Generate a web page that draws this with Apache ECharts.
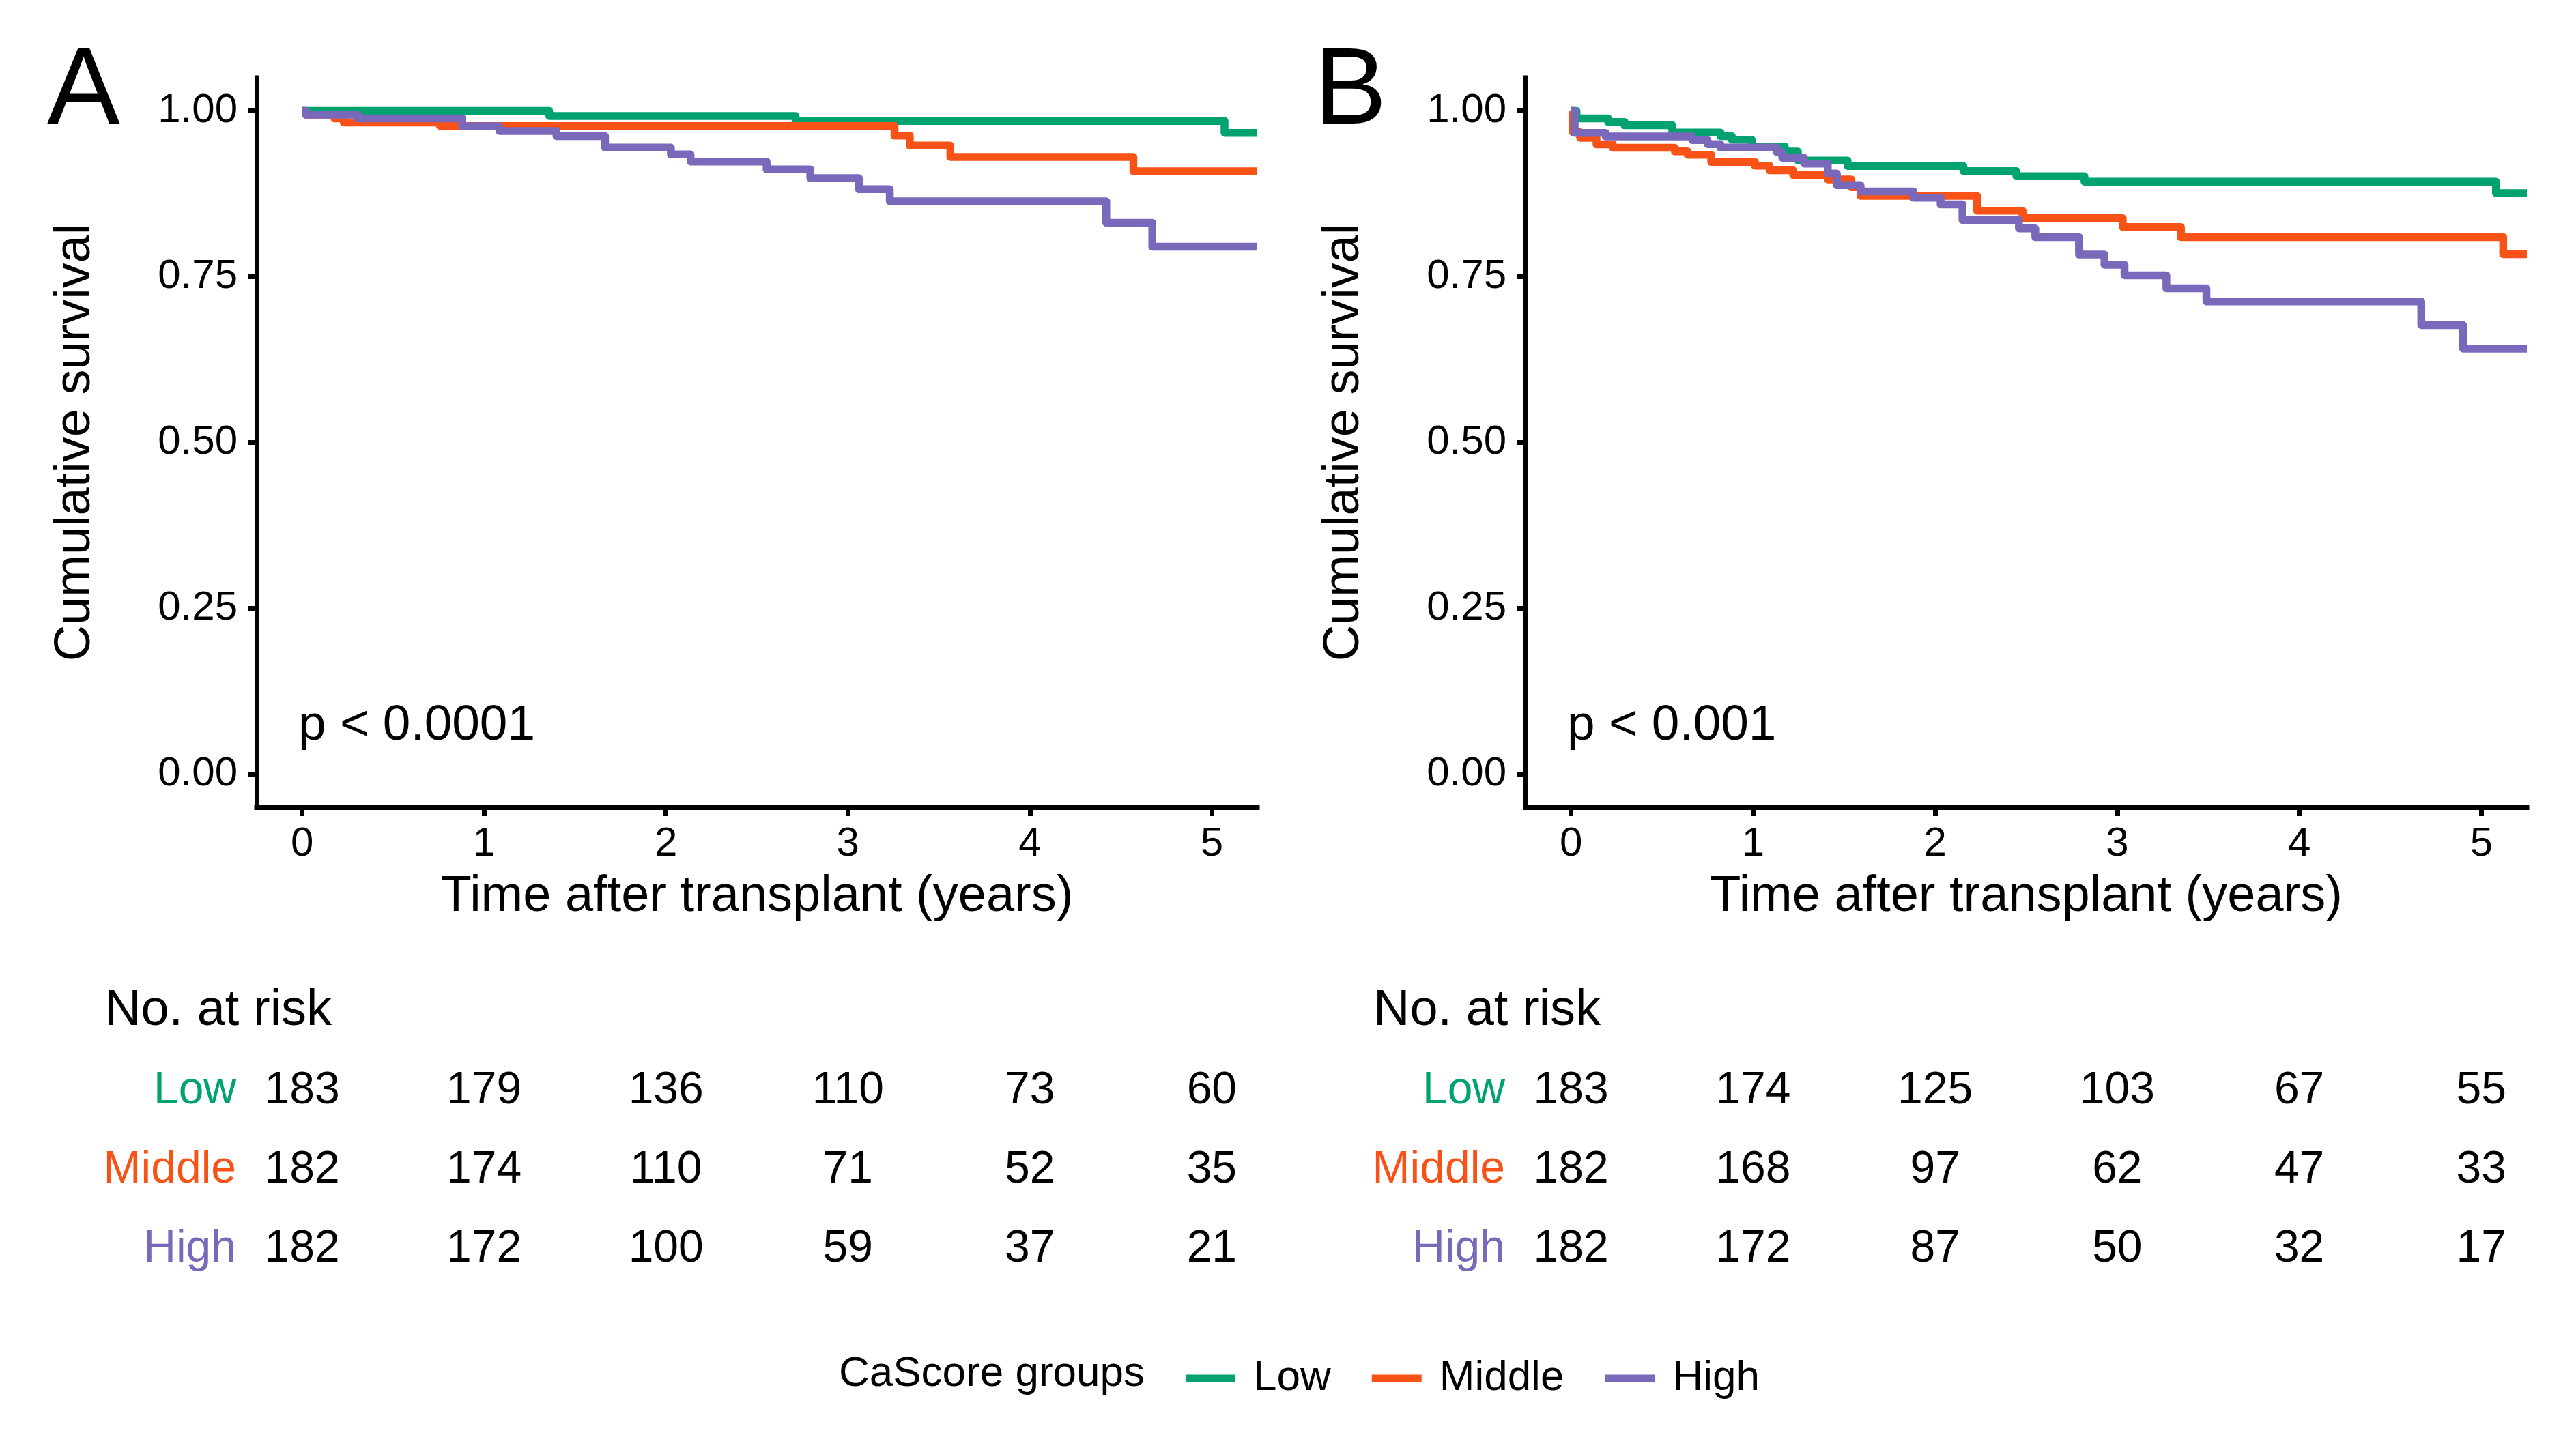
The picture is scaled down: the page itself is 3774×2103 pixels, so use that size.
<!DOCTYPE html>
<html>
<head>
<meta charset="utf-8">
<script src="https://cdn.jsdelivr.net/npm/echarts@6/dist/echarts.min.js"></script>
<style>
html,body{margin:0;padding:0;background:#fff;}
#chart{width:3774px;height:2103px;}
</style>
</head>
<body>
<div id="chart"></div>
<script>
// ---------------- DATA ----------------
const groups = ['Low', 'Middle', 'High'];
const timeTicks = [0, 1, 2, 3, 4, 5];
const survTicks = [0, 0.25, 0.5, 0.75, 1];

// Panel A: Kaplan-Meier steps [time (years), survival]
const A_low = [[0,1],[1.358,0.9925],[2.712,0.9849],[5.07,0.967],[5.25,0.967]];
const A_mid = [[0,1],[0.02,0.9945],[0.178,0.9887],[0.229,0.9826],[0.758,0.9773],[3.256,0.9629],[3.34,0.9478],[3.563,0.9307],[4.569,0.9091],[5.25,0.9091]];
const A_high = [[0,1],[0.02,0.9945],[0.307,0.9887],[0.88,0.977],[1.084,0.9698],[1.398,0.962],[1.665,0.9447],[2.027,0.9344],[2.135,0.9238],[2.553,0.9118],[2.793,0.8987],[3.06,0.8819],[3.23,0.8637],[4.42,0.8314],[4.673,0.7954],[5.25,0.7954]];

// Panel B
const B_low = [[0,1],[0.03,0.9887],[0.204,0.9835],[0.294,0.9784],[0.556,0.9674],[0.821,0.9619],[0.883,0.9567],[0.992,0.9464],[1.174,0.9389],[1.246,0.9252],[1.519,0.917],[2.155,0.9094],[2.446,0.9015],[2.82,0.8933],[5.08,0.8762],[5.25,0.8762]];
const B_mid = [[0,1],[0.01,0.968],[0.05,0.9595],[0.14,0.9496],[0.23,0.9444],[0.57,0.939],[0.64,0.934],[0.77,0.9231],[1.01,0.9174],[1.09,0.9105],[1.22,0.9035],[1.41,0.8968],[1.54,0.885],[1.59,0.872],[2.23,0.8496],[2.48,0.8383],[3.03,0.8249],[3.35,0.8098],[5.12,0.784],[5.25,0.784]];
const B_high = [[0,1],[0.02,0.967],[0.19,0.9616],[0.665,0.9561],[0.75,0.95],[0.82,0.9447],[1.13,0.938],[1.16,0.9293],[1.28,0.9207],[1.41,0.9056],[1.46,0.8881],[1.59,0.8788],[1.88,0.8692],[2.03,0.859],[2.15,0.8355],[2.46,0.8228],[2.55,0.8098],[2.79,0.7834],[2.93,0.768],[3.04,0.7521],[3.27,0.7326],[3.49,0.7127],[4.67,0.677],[4.90,0.6416],[5.25,0.6416]];

// Numbers at risk at timeTicks
const riskA_low = [183, 179, 136, 110, 73, 60];
const riskA_mid = [182, 174, 110, 71, 52, 35];
const riskA_high = [182, 172, 100, 59, 37, 21];
const riskB_low = [183, 174, 125, 103, 67, 55];
const riskB_mid = [182, 168, 97, 62, 47, 33];
const riskB_high = [182, 172, 87, 50, 32, 17];

const pA = 'p < 0.0001';
const pB = 'p < 0.001';

// ---------------- STYLE ----------------
const FONT = "'Liberation Sans', Arial, Helvetica, sans-serif";
const COLORS = { Low: '#00A36F', Middle: '#F95216', High: '#7A68BB' };
const LINE_W = 11.5;
const AXIS_W = 7;

const panels = [
  { left: 376, width: 1466, label: 'A', labelX: 69, p: pA, pX: 437, noRiskX: 153,
    curves: [A_low, A_mid, A_high], risk: [riskA_low, riskA_mid, riskA_high] },
  { left: 2235, width: 1467, label: 'B', labelX: 1925, p: pB, pX: 2296, noRiskX: 2012,
    curves: [B_low, B_mid, B_high], risk: [riskB_low, riskB_mid, riskB_high] }
];
const PLOT_TOP = 114, PLOT_H = 1069;
const RISK_TOP = 1541, RISK_H = 348;

const grids = [], xAxes = [], yAxes = [], series = [], graphics = [];

panels.forEach((pn, k) => {
  // survival plot grid
  grids.push({ left: pn.left, top: PLOT_TOP, width: pn.width, height: PLOT_H, outerBoundsMode: 'none', containLabel: false });
  const gi = grids.length - 1;
  xAxes.push({
    gridIndex: gi, type: 'value', min: -0.25, max: 5.25,
    splitLine: { show: false },
    axisLine: { show: true, onZero: false, lineStyle: { color: '#000', width: AXIS_W, cap: 'square' } },
    axisTick: { show: true, length: 13, customValues: timeTicks, lineStyle: { color: '#000', width: AXIS_W } },
    axisLabel: { show: true, customValues: timeTicks, margin: 24, color: '#000', fontSize: 60, fontFamily: FONT,
      formatter: v => String(v) }
  });
  yAxes.push({
    gridIndex: gi, type: 'value', min: -0.05, max: 1.05,
    splitLine: { show: false },
    axisLine: { show: true, onZero: false, lineStyle: { color: '#000', width: AXIS_W, cap: 'square' } },
    axisTick: { show: true, length: 13, customValues: survTicks, lineStyle: { color: '#000', width: AXIS_W } },
    axisLabel: { show: true, customValues: survTicks, margin: 28, color: '#000', fontSize: 60, fontFamily: FONT,
      formatter: v => v.toFixed(2) }
  });
  groups.forEach((g, j) => {
    series.push({
      name: g, type: 'line', xAxisIndex: gi, yAxisIndex: gi,
      data: pn.curves[j], step: 'end', symbol: 'none', clip: true,
      lineStyle: { color: COLORS[g], width: LINE_W, join: 'round', cap: 'butt' },
      itemStyle: { color: COLORS[g] },
      z: 2 + j, silent: true, animation: false
    });
  });

  // risk table grid
  grids.push({ left: pn.left, top: RISK_TOP, width: pn.width, height: RISK_H, outerBoundsMode: 'none', containLabel: false });
  const ri = grids.length - 1;
  xAxes.push({ gridIndex: ri, type: 'value', min: -0.25, max: 5.25, show: false });
  const rich = {};
  groups.forEach(g => { rich[g] = { color: COLORS[g], fontSize: 66, fontFamily: FONT }; });
  yAxes.push({
    gridIndex: ri, type: 'category', data: groups, inverse: true,
    axisLine: { show: false }, axisTick: { show: false }, splitLine: { show: false },
    axisLabel: { show: true, margin: 30, formatter: v => '{' + v + '|' + v + '}', rich: rich }
  });
  groups.forEach((g, j) => {
    series.push({
      name: 'risk_' + g, type: 'scatter', xAxisIndex: ri, yAxisIndex: ri,
      data: timeTicks.map((t, i) => [t, g, pn.risk[j][i]]),
      symbolSize: 1, itemStyle: { color: 'transparent' }, silent: true, animation: false,
      label: { show: true, position: 'inside', formatter: p => String(p.value[2]),
        color: '#000', opacity: 1, textBorderWidth: 0, textShadowBlur: 0,
        fontSize: 66, fontFamily: FONT, fontWeight: 'normal' }
    });
  });

  // texts
  graphics.push({ type: 'text', x: pn.labelX, y: 186 - 0.31 * 160,
    style: { text: pn.label, fill: '#000', font: '160px ' + FONT, align: 'left', verticalAlign: 'middle' } });
  graphics.push({ type: 'text', x: pn.pX, y: 1087 - 0.31 * 73,
    style: { text: pn.p, fill: '#000', font: '73px ' + FONT, align: 'left', verticalAlign: 'middle' } });
  graphics.push({ type: 'text', x: pn.left + pn.width / 2, y: 1338 - 0.31 * 74,
    style: { text: 'Time after transplant (years)', fill: '#000', font: '74px ' + FONT, align: 'center', verticalAlign: 'middle' } });
  graphics.push({ type: 'text', x: pn.left - 265, y: PLOT_TOP + PLOT_H / 2, rotation: Math.PI / 2,
    style: { text: 'Cumulative survival', fill: '#000', font: '74px ' + FONT, align: 'center', verticalAlign: 'middle' } });
  graphics.push({ type: 'text', x: pn.noRiskX, y: 1505 - 0.31 * 74,
    style: { text: 'No. at risk', fill: '#000', font: '74px ' + FONT, align: 'left', verticalAlign: 'middle' } });
});

graphics.push({ type: 'text', x: 1229, y: 2014,
  style: { text: 'CaScore groups', fill: '#000', font: '62px ' + FONT, align: 'left', verticalAlign: 'middle' } });

const chart = echarts.init(document.getElementById('chart'), null, { renderer: 'canvas', width: 3774, height: 2103 });
chart.setOption({
  backgroundColor: '#ffffff',
  animation: false,
  grid: grids,
  xAxis: xAxes,
  yAxis: yAxes,
  series: series,
  graphic: graphics,
  legend: {
    data: groups.map(g => ({ name: g, itemStyle: { color: COLORS[g] } })),
    left: 1732, top: 1984,
    icon: 'rect', itemWidth: 73, itemHeight: 11, itemGap: 60,
    textStyle: { color: '#000', fontSize: 62, fontFamily: FONT, lineHeight: 62, padding: [0, 0, 0, 21] },
    selectedMode: false
  }
});
</script>
</body>
</html>
